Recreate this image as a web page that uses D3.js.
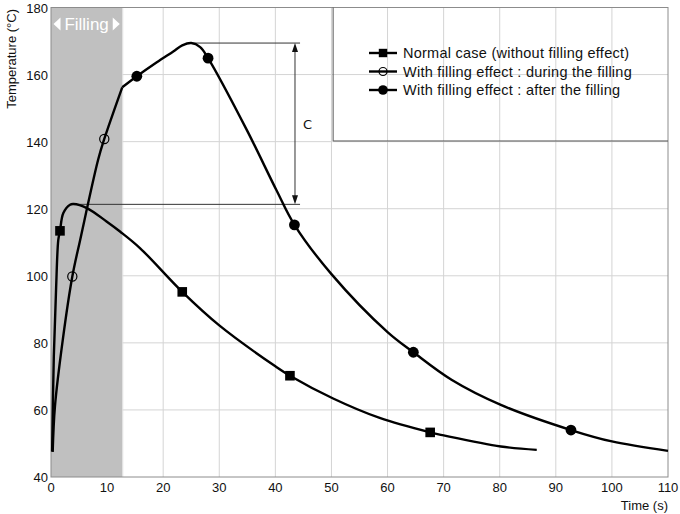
<!DOCTYPE html>
<html>
<head>
<meta charset="utf-8">
<script src="https://cdn.jsdelivr.net/npm/d3@7"></script>
<style>
  body { margin: 0; background: #fff; }
  svg { display: block; font-family: Arial, "Liberation Sans", sans-serif; }
</style>
</head>
<body>
<svg id="chart" width="680" height="514"></svg>
<script>
// normal case (no filling effect) - smooth curve + markers
const normalT    = [0.2, 0.5, 0.9, 1.3, 1.6, 2.2, 3.4, 4.0, 6.4, 9.9, 12.3, 15.9, 23.4, 30, 40, 42.6, 50.3, 58.6, 67.6, 70, 80.2, 86.6];
const normalTemp = [47.6, 75.9, 95.8, 110.7, 113.4, 118.7, 121.2, 121.4, 120.2, 116.2, 113.2, 108.2, 95.2, 85.2, 73.0, 70.2, 63.4, 57.6, 53.3, 52.4, 49.1, 48.1];
const normalMarkT    = [1.6, 23.4, 42.6, 67.6];
const normalMarkTemp = [113.4, 95.2, 70.2, 53.3];

// with filling effect, during the filling
const duringT    = [0.3, 0.7, 2.1, 3.8, 5.2, 8.4, 9.5, 12.7];
const duringTemp = [47.5, 61, 80.9, 99.8, 110.7, 134.6, 140.8, 156.2];
const duringMarkT    = [3.8, 9.5];
const duringMarkTemp = [99.8, 140.8];

// with filling effect, after the filling
const afterT    = [12.7, 15.3, 18.8, 21.8, 23.4, 25.0, 26.6, 28.0, 34.9, 40.2, 43.4, 50, 60, 64.6, 71.4, 80.2, 92.7, 100, 110];
const afterTemp = [156.2, 159.5, 163.6, 166.9, 168.7, 169.4, 168.2, 164.9, 143.5, 125.5, 115.2, 100.5, 83.2, 77.2, 69, 61.5, 54, 50.6, 47.8];
const afterMarkT    = [15.3, 28.0, 43.4, 64.6, 92.7];
const afterMarkTemp = [159.5, 164.9, 115.2, 77.2, 54.0];

const xTicks = [0, 10, 20, 30, 40, 50, 60, 70, 80, 90, 100, 110];
const yTicks = [40, 60, 80, 100, 120, 140, 160, 180];
const fillingEnd = 12.7;
const peakFill = { t: 25.0, temp: 169.4 };
const peakNormal = { t: 4.0, temp: 121.3 };
const annotEndT = 44.4, arrowT = 43.5;

const legendItems = [
  { label: 'Normal case (without filling effect)', shape: 'square' },
  { label: 'With filling effect : during the filling', shape: 'open' },
  { label: 'With filling effect : after the filling', shape: 'dot' }
];

const svg = d3.select('#chart');
const L = 51, R = 668, T = 7.5, B = 477;
const x = d3.scaleLinear().domain([0, 110]).range([L, R]);
const y = d3.scaleLinear().domain([40, 180]).range([B, T]);

// grid
svg.append('g').selectAll('line').data(xTicks.slice(1, -1)).enter().append('line')
  .attr('x1', d => x(d)).attr('x2', d => x(d)).attr('y1', T).attr('y2', B)
  .attr('stroke', '#d4d4d4').attr('stroke-width', 1);
svg.append('g').selectAll('line').data(yTicks.slice(1, -1)).enter().append('line')
  .attr('x1', L).attr('x2', R).attr('y1', d => y(d)).attr('y2', d => y(d))
  .attr('stroke', '#d4d4d4').attr('stroke-width', 1);

// filling band
svg.append('rect')
  .attr('x', x(0)).attr('y', T).attr('width', x(fillingEnd) - x(0)).attr('height', B - T)
  .attr('fill', '#c0c0c0');
svg.append('line')
  .attr('x1', x(fillingEnd) + 0.5).attr('x2', x(fillingEnd) + 0.5).attr('y1', T).attr('y2', B)
  .attr('stroke', '#dedede');

const midF = (x(0) + x(fillingEnd)) / 2;
svg.append('text').attr('x', midF).attr('y', 30).attr('text-anchor', 'middle')
  .attr('font-size', 17).attr('fill', '#fff').text('Filling');
svg.append('path').attr('d', `M${x(0) + 2.5},24 L${x(0) + 9.5},17.5 L${x(0) + 9.5},30.5 Z`).attr('fill', '#fff');
svg.append('path').attr('d', `M${x(fillingEnd) - 2.5},24 L${x(fillingEnd) - 9.5},17.5 L${x(fillingEnd) - 9.5},30.5 Z`).attr('fill', '#fff');

// frame
svg.append('rect').attr('x', L).attr('y', T).attr('width', R - L).attr('height', B - T)
  .attr('fill', 'none').attr('stroke', '#8c8c8c').attr('stroke-width', 1);

// legend box (left + bottom edges, the rest is the frame)
svg.append('path')
  .attr('d', `M${x(50.3)},${T} V${y(140.2)} H${R}`)
  .attr('fill', 'none').attr('stroke', '#555').attr('stroke-width', 1);

// tick labels
svg.append('g').selectAll('text').data(xTicks).enter().append('text')
  .attr('x', d => x(d)).attr('y', B + 15).attr('text-anchor', 'middle')
  .attr('font-size', 13).attr('fill', '#111').text(d => d);
svg.append('g').selectAll('text').data(yTicks).enter().append('text')
  .attr('x', L - 3).attr('y', d => y(d) + 5).attr('text-anchor', 'end')
  .attr('font-size', 13).attr('fill', '#111').text(d => d);

svg.append('text').attr('x', R).attr('y', 510).attr('text-anchor', 'end')
  .attr('font-size', 13).attr('fill', '#111').text('Time (s)');
svg.append('text').attr('transform', 'translate(16,9) rotate(-90)').attr('text-anchor', 'end')
  .attr('font-size', 13).attr('fill', '#111').text('Temperature (°C)');

// annotation C
const ann = svg.append('g').attr('stroke', '#333').attr('stroke-width', 1);
ann.append('line').attr('x1', x(peakFill.t)).attr('x2', x(annotEndT))
  .attr('y1', y(peakFill.temp)).attr('y2', y(peakFill.temp));
ann.append('line').attr('x1', x(peakNormal.t)).attr('x2', x(annotEndT))
  .attr('y1', y(peakNormal.temp)).attr('y2', y(peakNormal.temp));
ann.append('line').attr('x1', x(arrowT)).attr('x2', x(arrowT))
  .attr('y1', y(peakFill.temp) + 6).attr('y2', y(peakNormal.temp) - 6);
const ax = x(arrowT), ay1 = y(peakFill.temp), ay2 = y(peakNormal.temp);
svg.append('path').attr('d', `M${ax},${ay1} L${ax - 3},${ay1 + 9} L${ax + 3},${ay1 + 9} Z`).attr('fill', '#111');
svg.append('path').attr('d', `M${ax},${ay2} L${ax - 3},${ay2 - 9} L${ax + 3},${ay2 - 9} Z`).attr('fill', '#111');
svg.append('text').attr('x', ax + 8).attr('y', (ay1 + ay2) / 2 + 5)
  .attr('font-size', 13).attr('font-family', 'DejaVu Sans').attr('fill', '#111').text('C');

// curves
const line = d3.line().x(d => x(d[0])).y(d => y(d[1])).curve(d3.curveCatmullRom.alpha(0.5));
const zip = (a, b) => a.map((v, i) => [v, b[i]]);
[[normalT, normalTemp], [duringT, duringTemp], [afterT, afterTemp]].forEach(([a, b]) => {
  svg.append('path').datum(zip(a, b)).attr('d', line)
    .attr('fill', 'none').attr('stroke', '#000').attr('stroke-width', 2.4)
    .attr('stroke-linejoin', 'round');
});

// markers
function marker(g, shape, cx, cy, s) {
  if (shape === 'square') {
    g.append('rect').attr('x', cx - s).attr('y', cy - s).attr('width', 2 * s).attr('height', 2 * s).attr('fill', '#000');
  } else if (shape === 'open') {
    g.append('circle').attr('cx', cx).attr('cy', cy).attr('r', s).attr('fill', 'none').attr('stroke', '#000').attr('stroke-width', 1.2);
  } else {
    g.append('circle').attr('cx', cx).attr('cy', cy).attr('r', s + 0.6).attr('fill', '#000');
  }
}
const mk = svg.append('g');
normalMarkT.forEach((t, i) => marker(mk, 'square', x(t), y(normalMarkTemp[i]), 4.8));
duringMarkT.forEach((t, i) => marker(mk, 'open', x(t), y(duringMarkTemp[i]), 4.6));
afterMarkT.forEach((t, i) => marker(mk, 'dot', x(t), y(afterMarkTemp[i]), 4.8));

// legend
const lg = svg.append('g').attr('transform', 'translate(369,53)');
legendItems.forEach((d, i) => {
  const gy = i * 18.5;
  lg.append('line').attr('x1', 0).attr('x2', 28).attr('y1', gy).attr('y2', gy)
    .attr('stroke', '#000').attr('stroke-width', 2.4);
  marker(lg, d.shape, 14, gy, d.shape === 'open' ? 4 : 4.2);
  lg.append('text').attr('x', 34).attr('y', gy + 5).attr('font-size', 14.5)
    .attr('letter-spacing', 0.25).attr('fill', '#111').text(d.label);
});
</script>
</body>
</html>
